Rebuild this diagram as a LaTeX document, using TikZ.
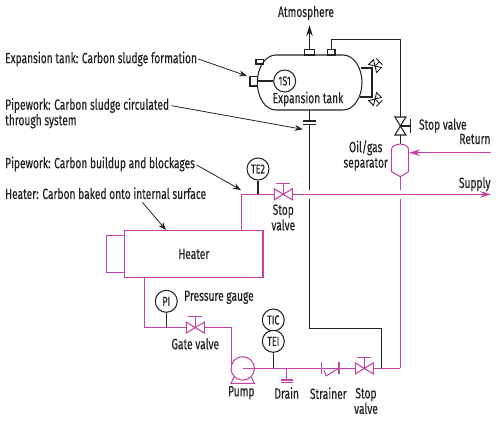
\documentclass[tikz,border=0pt]{standalone}
\usepackage{fontspec}
\setmainfont[FakeStretch=0.69,FakeBold=0.3]{Fira Sans}
\usetikzlibrary{arrows.meta}
\definecolor{pipe}{RGB}{196,66,166}
\definecolor{ink}{RGB}{35,35,35}
\tikzset{
  x=1pt,y=-1pt,
  mline/.style={draw=pipe,line width=1.05pt},
  kline/.style={draw=ink,line width=1.05pt},
  lbl/.style={font=\fontsize{14.8}{15.5}\selectfont,text=ink,inner sep=0pt,align=left},
  ctr/.style={lbl,align=center},
  inst/.style={circle,draw=ink,line width=1.05pt,minimum size=22pt,inner sep=0pt,fill=white,font=\fontsize{13}{12}\selectfont,text=ink},
  callout/.style={draw=ink,line width=0.8pt,-{Stealth[length=8pt,width=6pt]}},
}
\newcommand{\vvalve}[5]{% x y colour stemlen dir
  \begin{scope}[shift={(#1,#2)},rotate=#5]
    \draw[#3] (-9,-5.5) -- (9,5.5) -- (9,-5.5) -- (-9,5.5) -- cycle;
    \draw[#3] (0,0) -- (0,-#4) (-7,-#4) -- (7,-#4);
  \end{scope}}
\newcommand{\svalve}[3]{% x y dir
  \begin{scope}[shift={(#1,#2)},rotate=#3,scale=0.62]
    \draw[kline,line width=0.9pt] (-9,-5.5) -- (9,5.5) -- (9,-5.5) -- (-9,5.5) -- cycle;
    \draw[kline,line width=0.9pt] (0,0) -- (0,-10) (-7,-10) -- (7,-10);
  \end{scope}}
\begin{document}
\begin{tikzpicture}
\useasboundingbox (0,0) rectangle (500,420);
% coordinates
\coordinate (vent) at (309.5,49.7);
\coordinate (venttip) at (309.5,25);
\coordinate (n2) at (331.3,49.7);
\coordinate (c1) at (331.3,39.5);
\coordinate (c2) at (400.4,39.5);
\coordinate (sv) at (400.4,126);
\coordinate (septop) at (400.4,144);
\coordinate (sepbot) at (400.4,176.7);
\coordinate (retS) at (490.7,152.7);
\coordinate (retT) at (409,152.7);
\coordinate (supS) at (241.3,194.3);
\coordinate (supT) at (491,194.3);
\coordinate (hTop) at (241.3,230.7);
\coordinate (hBot) at (144.4,277.3);
\coordinate (g1) at (144.4,327.6);
\coordinate (g2) at (231.4,327.6);
\coordinate (g3) at (231.4,366);
\coordinate (rl) at (400.4,368.4);
\coordinate (pumpc) at (242.7,368.4);
% tank
\draw[kline] (276,55) -- (343,55) .. controls (354,55) and (362,68) .. (362,82.5) .. controls (362,97) and (354,110) .. (343,110) -- (276,110) .. controls (265,110) and (257.3,97) .. (257.3,82.5) .. controls (257.3,68) and (265,55) .. (276,55) -- cycle;
\draw[kline] (304.7,49.7) rectangle (314.7,55);
\draw[kline] (327.7,49.7) rectangle (335,55);
\draw[kline] (256,59.3) rectangle (263.5,64);
\draw[kline] (250,76.7) rectangle (257.3,86);
\node[inst] (ts) at (284.7,81) {1S1};
\draw[kline] (257.3,81) -- (ts);
\node[lbl] (tanklbl) at (308,99) {Expansion tank};
% right side valves on tank
\draw[kline] (361,68) -- (372,68) -- (372,97) -- (360,97);
\svalve{375}{66}{-45}
\svalve{375}{99}{-135}
% atmosphere
\draw[kline,-{Stealth[length=11pt,width=6.5pt]}] (vent) -- (venttip);
\node[ctr] (atm) at (306,13) {Atmosphere};
% black line to stop valve
\draw[kline] (n2) -- (c1) -- (c2) -- (400.4,117);
\vvalve{400.4}{126}{kline}{10}{-90}
\draw[kline] (400.4,135) -- (septop);
\node[lbl] (svl) at (442.8,125.7) {Stop valve};
% flange
\draw[kline] (309.3,110) -- (309.3,121);
\draw[kline] (303,121) -- (315.7,121) (303,124.3) -- (315.7,124.3);
\draw[kline] (309.3,124.3) -- (309.3,190);
\draw[kline] (309.4,199) -- (309.4,328.4) -- (381.6,328.4) -- (381.6,368.4);
% separator
\draw[mline] (391.4,171.7) -- (391.4,150) .. controls (391.4,147) and (394,144.5) .. (400.4,144) .. controls (406,144.5) and (408.7,147) .. (408.7,150) -- (408.7,171.7) -- (400.4,176.7) -- cycle;
\node[ctr] (sep) at (365.7,155.5) {Oil/gas\\separator};
\draw[mline,-{Stealth[length=11pt,width=6.5pt]}] (retS) -- (retT);
\node[lbl,anchor=east] (ret) at (490.7,139) {Return};
\draw[mline] (sepbot) -- (400.4,190) (400.4,199) -- (rl);
% supply
\draw[mline,-{Stealth[length=11pt,width=6.5pt]}] (292,194.3) -- (supT);
\draw[mline] (hTop) -- (supS) -- (274.5,194.3);
\node[lbl,anchor=east] (sup) at (490.7,184) {Supply};
\vvalve{283.3}{194.3}{mline}{11}{0}
\node[inst] (te2) at (258,169) {TE2};
\draw[kline] (te2) -- (258,194.3);
\node[ctr] (sv2) at (283.3,217.5) {Stop\\valve};
% heater
\node[draw=pipe,line width=1.05pt,minimum width=138.3pt,minimum height=46.6pt,inner sep=0pt,font=\fontsize{14.8}{15}\selectfont,text=ink] (heater) at (193.85,254) {Heater};
\draw[mline] (124.7,235.3) -- (106.7,235.3) -- (106.7,272.7) -- (124.7,272.7);
\draw[mline] (hBot) -- (g1) -- (186.7,327.6);
\draw[mline] (204,327.6) -- (g2) -- (g3);
\vvalve{195.3}{327.6}{mline}{11}{0}
\node[lbl] (glbl) at (195.3,343.7) {Gate valve};
\node[inst] (pi) at (166.3,301.3) {PI};
\draw[kline] (pi) -- (166.3,327.6);
\node[lbl,anchor=west] (pg) at (184,297.3) {Pressure gauge};
% pump
\draw[mline] (234.5,376) -- (231,383.3) -- (254.3,383.3) -- (250.8,376);
\node[circle,draw=pipe,line width=1.05pt,minimum size=23.4pt,inner sep=0pt,fill=white] (pump) at (pumpc) {};
\draw[mline] (pumpc) -- (355.7,368.4);
\node[ctr] (pumpl) at (241.3,392.7) {Pump};
% TIC TEI
\node[inst] (tic) at (273.3,320) {TIC};
\node[inst] (tei) at (273.3,341.3) {TEI};
\draw[kline] (tei) -- (273.3,368.4);
% drain
\draw[mline] (286.7,368.4) -- (286.7,380) (280.7,380) -- (292.7,380) (280.7,382.7) -- (292.7,382.7);
\node[ctr] (drl) at (286.7,393) {Drain};
% strainer
\draw[mline] (321.7,362.3) -- (321.7,374) (339,362.3) -- (339,374);
\draw[mline] (324,370) -- (326,376);
\draw[mline] (326,376) -- (339,368);
\node[ctr] (strl) at (328.3,393.3) {Strainer};
% bottom stop valve
\vvalve{364.3}{368.4}{mline}{10.5}{0}
\draw[mline] (373.3,368.4) -- (rl);
\node[ctr] (sv3) at (366,401) {Stop\\valve};
% text callouts
\node[lbl,anchor=west] (t1) at (5,59) {Expansion tank: Carbon sludge formation};
\node[lbl,anchor=west] (t2) at (5,113.3) {Pipework: Carbon sludge circulated\\through system};
\node[lbl,anchor=west] (t3) at (5,164) {Pipework: Carbon buildup and blockages};
\node[lbl,anchor=west] (t4) at (5,193.3) {Heater: Carbon baked onto internal surface};
\coordinate (a1s) at (198.3,59); \coordinate (a1e) at (247,76);
\coordinate (a2s) at (171.7,105.7); \coordinate (a2e) at (302.7,129.3);
\coordinate (a3s) at (196.7,165); \coordinate (a3e) at (241,190);
\coordinate (a4s) at (142.3,202.3); \coordinate (a4e) at (166,230);
\draw[callout] (a1s) -- (a1e);
\draw[callout] (a2s) -- (a2e);
\draw[callout] (a3s) -- (a3e);
\draw[callout] (a4s) -- (a4e);
\end{tikzpicture}
\end{document}
